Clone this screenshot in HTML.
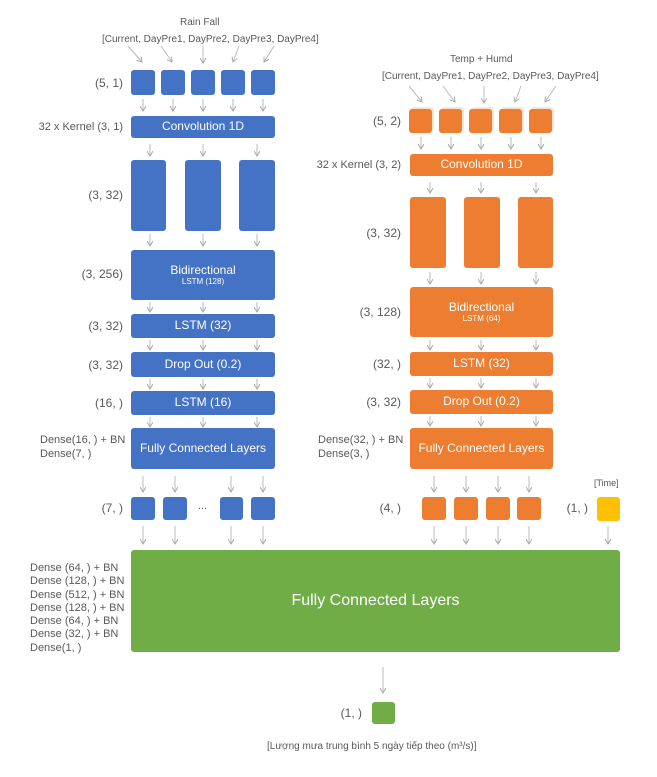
<!DOCTYPE html>
<html><head><meta charset="utf-8"><style>
body{margin:0;width:657px;height:777px;background:#fff;position:relative;overflow:hidden;font-family:"Liberation Sans","Noto Sans CJK SC",sans-serif;color:#595959}
.b{position:absolute;border-radius:3px;color:#fff;display:flex;align-items:center;justify-content:center;flex-direction:column;font-size:12px;text-align:center;line-height:1.15}
.blue{background:#4472C4}.or{background:#ED7D31}.gr{background:#70AD47}.ye{background:#FFC000}
.t{position:absolute;font-size:11px;white-space:nowrap}
.r{text-align:right}
.small{font-size:8px}
svg{position:absolute;left:0;top:0}
</style></head><body>
<svg width="657" height="777">
<defs><marker id="a" markerWidth="6" markerHeight="6" refX="5" refY="3" orient="auto" markerUnits="userSpaceOnUse"><path d="M0,0 L5,3 L0,6" fill="none" stroke="#aaa" stroke-width="1"/></marker></defs>
<g stroke="#bbb" stroke-width="1" marker-end="url(#a)">
<line x1="128" y1="46" x2="142" y2="62"/><line x1="161" y1="46" x2="172" y2="62"/><line x1="203" y1="46" x2="203" y2="63"/><line x1="239" y1="46" x2="233" y2="62"/><line x1="274" y1="46" x2="264" y2="62"/>
<line x1="143" y1="99" x2="143" y2="111"/><line x1="173" y1="99" x2="173" y2="111"/><line x1="203" y1="99" x2="203" y2="111"/><line x1="233" y1="99" x2="233" y2="111"/><line x1="263" y1="99" x2="263" y2="111"/>
<line x1="150" y1="144" x2="150" y2="156"/><line x1="203" y1="144" x2="203" y2="156"/><line x1="257" y1="144" x2="257" y2="156"/>
<line x1="150" y1="234" x2="150" y2="246"/><line x1="203" y1="234" x2="203" y2="246"/><line x1="257" y1="234" x2="257" y2="246"/>
<line x1="150" y1="302" x2="150" y2="312"/><line x1="203" y1="302" x2="203" y2="312"/><line x1="257" y1="302" x2="257" y2="312"/>
<line x1="150" y1="340" x2="150" y2="350"/><line x1="203" y1="340" x2="203" y2="350"/><line x1="257" y1="340" x2="257" y2="350"/>
<line x1="150" y1="379" x2="150" y2="389"/><line x1="203" y1="379" x2="203" y2="389"/><line x1="257" y1="379" x2="257" y2="389"/>
<line x1="150" y1="417" x2="150" y2="427"/><line x1="203" y1="417" x2="203" y2="427"/><line x1="257" y1="417" x2="257" y2="427"/>
<line x1="143" y1="476" x2="143" y2="492"/><line x1="175" y1="476" x2="175" y2="492"/><line x1="231" y1="476" x2="231" y2="492"/><line x1="263" y1="476" x2="263" y2="492"/>
<line x1="143" y1="526" x2="143" y2="544"/><line x1="175" y1="526" x2="175" y2="544"/><line x1="231" y1="526" x2="231" y2="544"/><line x1="263" y1="526" x2="263" y2="544"/>
<line x1="409" y1="86" x2="422" y2="102"/><line x1="443" y1="86" x2="455" y2="102"/><line x1="484" y1="86" x2="484" y2="103"/><line x1="521" y1="86" x2="515" y2="102"/><line x1="556" y1="86" x2="545" y2="102"/>
<line x1="421" y1="137" x2="421" y2="149"/><line x1="451" y1="137" x2="451" y2="149"/><line x1="481" y1="137" x2="481" y2="149"/><line x1="511" y1="137" x2="511" y2="149"/><line x1="541" y1="137" x2="541" y2="149"/>
<line x1="430" y1="182" x2="430" y2="193"/><line x1="481" y1="182" x2="481" y2="193"/><line x1="536" y1="182" x2="536" y2="193"/>
<line x1="430" y1="272" x2="430" y2="284"/><line x1="481" y1="272" x2="481" y2="284"/><line x1="536" y1="272" x2="536" y2="284"/>
<line x1="430" y1="340" x2="430" y2="350"/><line x1="481" y1="340" x2="481" y2="350"/><line x1="536" y1="340" x2="536" y2="350"/>
<line x1="430" y1="378" x2="430" y2="388"/><line x1="481" y1="378" x2="481" y2="388"/><line x1="536" y1="378" x2="536" y2="388"/>
<line x1="430" y1="416" x2="430" y2="426"/><line x1="481" y1="416" x2="481" y2="426"/><line x1="536" y1="416" x2="536" y2="426"/>
<line x1="434" y1="476" x2="434" y2="492"/><line x1="466" y1="476" x2="466" y2="492"/><line x1="498" y1="476" x2="498" y2="492"/><line x1="529" y1="476" x2="529" y2="492"/>
<line x1="434" y1="526" x2="434" y2="544"/><line x1="466" y1="526" x2="466" y2="544"/><line x1="498" y1="526" x2="498" y2="544"/><line x1="529" y1="526" x2="529" y2="544"/><line x1="608" y1="526" x2="608" y2="544"/>
<line x1="383" y1="667" x2="383" y2="693"/>
</g></svg>

<div class="t" style="left:180px;top:17px;font-size:10px">Rain Fall</div>
<div class="t" style="left:102px;top:34px;font-size:10px">[Current, DayPre1, DayPre2, DayPre3, DayPre4]</div>
<div class="t" style="left:450px;top:54px;font-size:10px">Temp + Humd</div>
<div class="t" style="left:382px;top:71px;font-size:10px">[Current, DayPre1, DayPre2, DayPre3, DayPre4]</div>

<div class="b blue" style="left:131px;top:70px;width:24px;height:25px"></div>
<div class="b blue" style="left:161px;top:70px;width:24px;height:25px"></div>
<div class="b blue" style="left:191px;top:70px;width:24px;height:25px"></div>
<div class="b blue" style="left:221px;top:70px;width:24px;height:25px"></div>
<div class="b blue" style="left:251px;top:70px;width:24px;height:25px"></div>
<div class="t r" style="right:534px;top:76px;font-size:12px">(5, 1)</div>
<div class="b blue" style="left:131px;top:116px;width:144px;height:22px">Convolution 1D</div>
<div class="t r" style="right:534px;top:121px">32 x Kernel (3, 1)</div>
<div class="b blue" style="left:131px;top:160px;width:35px;height:71px"></div>
<div class="b blue" style="left:185px;top:160px;width:36px;height:71px"></div>
<div class="b blue" style="left:239px;top:160px;width:36px;height:71px"></div>
<div class="t r" style="right:534px;top:188px;font-size:12px">(3, 32)</div>
<div class="b blue" style="left:131px;top:250px;width:144px;height:50px">Bidirectional<span class="small">LSTM (128)</span></div>
<div class="t r" style="right:534px;top:267px;font-size:12px">(3, 256)</div>
<div class="b blue" style="left:131px;top:314px;width:144px;height:24px">LSTM (32)</div>
<div class="t r" style="right:534px;top:319px;font-size:12px">(3, 32)</div>
<div class="b blue" style="left:131px;top:352px;width:144px;height:25px">Drop Out (0.2)</div>
<div class="t r" style="right:534px;top:358px;font-size:12px">(3, 32)</div>
<div class="b blue" style="left:131px;top:391px;width:144px;height:24px">LSTM (16)</div>
<div class="t r" style="right:534px;top:396px;font-size:12px">(16, )</div>
<div class="b blue" style="left:131px;top:428px;width:144px;height:41px">Fully Connected Layers</div>
<div class="t" style="left:40px;top:433px;line-height:14px">Dense(16, ) + BN<br>Dense(7, )</div>
<div class="b blue" style="left:131px;top:497px;width:24px;height:23px"></div>
<div class="b blue" style="left:163px;top:497px;width:24px;height:23px"></div>
<div class="t" style="left:198px;top:500px">...</div>
<div class="b blue" style="left:220px;top:497px;width:23px;height:23px"></div>
<div class="b blue" style="left:251px;top:497px;width:24px;height:23px"></div>
<div class="t r" style="right:534px;top:501px;font-size:12px">(7, )</div>

<div class="b or" style="left:409px;top:109px;width:23px;height:24px;box-shadow:2px -2px 0 #fbe3d3"></div>
<div class="b or" style="left:439px;top:109px;width:23px;height:24px;box-shadow:2px -2px 0 #fbe3d3"></div>
<div class="b or" style="left:469px;top:109px;width:23px;height:24px;box-shadow:2px -2px 0 #fbe3d3"></div>
<div class="b or" style="left:499px;top:109px;width:23px;height:24px;box-shadow:2px -2px 0 #fbe3d3"></div>
<div class="b or" style="left:529px;top:109px;width:23px;height:24px;box-shadow:2px -2px 0 #fbe3d3"></div>
<div class="t r" style="right:256px;top:114px;font-size:12px">(5, 2)</div>
<div class="b or" style="left:410px;top:154px;width:143px;height:22px">Convolution 1D</div>
<div class="t r" style="right:256px;top:159px">32 x Kernel (3, 2)</div>
<div class="b or" style="left:410px;top:197px;width:36px;height:71px"></div>
<div class="b or" style="left:464px;top:197px;width:36px;height:71px"></div>
<div class="b or" style="left:518px;top:197px;width:35px;height:71px"></div>
<div class="t r" style="right:256px;top:226px;font-size:12px">(3, 32)</div>
<div class="b or" style="left:410px;top:287px;width:143px;height:50px">Bidirectional<span class="small">LSTM (64)</span></div>
<div class="t r" style="right:256px;top:305px;font-size:12px">(3, 128)</div>
<div class="b or" style="left:410px;top:352px;width:143px;height:24px">LSTM (32)</div>
<div class="t r" style="right:256px;top:357px;font-size:12px">(32, )</div>
<div class="b or" style="left:410px;top:390px;width:143px;height:24px">Drop Out (0.2)</div>
<div class="t r" style="right:256px;top:395px;font-size:12px">(3, 32)</div>
<div class="b or" style="left:410px;top:428px;width:143px;height:41px">Fully Connected Layers</div>
<div class="t" style="left:318px;top:433px;line-height:14px">Dense(32, ) + BN<br>Dense(3, )</div>
<div class="b or" style="left:422px;top:497px;width:24px;height:23px"></div>
<div class="b or" style="left:454px;top:497px;width:24px;height:23px"></div>
<div class="b or" style="left:486px;top:497px;width:24px;height:23px"></div>
<div class="b or" style="left:517px;top:497px;width:24px;height:23px"></div>
<div class="t r" style="right:256px;top:501px;font-size:12px">(4, )</div>
<div class="b ye" style="left:597px;top:497px;width:23px;height:24px"></div>
<div class="t" style="left:594px;top:478px;font-size:9px">[Time]</div>
<div class="t r" style="right:69px;top:501px;font-size:12px">(1, )</div>

<div class="b gr" style="left:131px;top:550px;width:489px;height:102px;font-size:16px">Fully Connected Layers</div>
<div class="t" style="left:30px;top:562px;line-height:13.3px">Dense (64, ) + BN<br>Dense (128, ) + BN<br>Dense (512, ) + BN<br>Dense (128, ) + BN<br>Dense (64, ) + BN<br>Dense (32, ) + BN<br>Dense(1, )</div>
<div class="b gr" style="left:372px;top:702px;width:23px;height:22px"></div>
<div class="t r" style="right:295px;top:706px;font-size:12px">(1, )</div>
<div class="t" style="left:267px;top:741px;font-size:10px">[Lượng mưa trung bình 5 ngày tiếp theo (m³/s)]</div>
</body></html>
